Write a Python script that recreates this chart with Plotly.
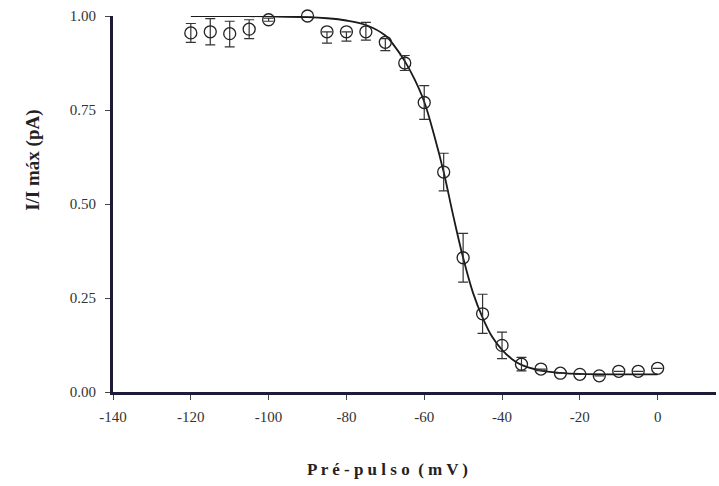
import plotly.graph_objects as go

# Measured data (pre-pulse voltage, normalized current, SEM)
voltage = [-120, -115, -110, -105, -100, -90, -85, -80, -75, -70, -65, -60, -55,
           -50, -45, -40, -35, -30, -25, -20, -15, -10, -5, 0]
current = [0.955, 0.958, 0.953, 0.965, 0.99, 1.0, 0.958, 0.958, 0.958, 0.93, 0.875,
           0.77, 0.585, 0.357, 0.208, 0.124, 0.074, 0.061, 0.05, 0.047, 0.043,
           0.055, 0.055, 0.063]
err_up = [0.025, 0.035, 0.033, 0.025, 0.004, 0.0, 0.0, 0.0, 0.025, 0.01, 0.02,
          0.045, 0.05, 0.065, 0.052, 0.035, 0.018, 0.0, 0.0, 0.0, 0.0, 0.0, 0.0, 0.0]
err_down = [0.025, 0.035, 0.035, 0.025, 0.004, 0.0, 0.03, 0.025, 0.022, 0.022, 0.02,
            0.045, 0.05, 0.065, 0.052, 0.035, 0.018, 0.004, 0.0, 0.0, 0.0, 0.0, 0.0, 0.0]

# Fitted curve
fit_v = [-120, -110, -100, -90, -85, -80, -75, -70, -67.5, -65, -62.5, -60, -57.5,
         -55, -52.5, -50, -47.5, -45, -42.5, -40, -37.5, -35, -30, -25, -20, -10, 0]
fit_i = [1.0, 1.0, 0.999, 0.997, 0.994, 0.988, 0.976, 0.948, 0.918, 0.88, 0.832,
         0.772, 0.685, 0.585, 0.467, 0.357, 0.265, 0.198, 0.146, 0.112, 0.088,
         0.072, 0.057, 0.051, 0.048, 0.047, 0.047]

x_ticks = [-140, -120, -100, -80, -60, -40, -20, 0]
x_tick_text = ["-140", "-120", "-100", "-80", "-60", "-40", "-20", "0"]
y_ticks = [0.0, 0.25, 0.5, 0.75, 1.0]
y_tick_text = ["0.00", "0.25", "0.50", "0.75", "1.00"]

fig = go.Figure()
fig.add_trace(go.Scatter(
    x=fit_v, y=fit_i, mode="lines", line=dict(color="#1a1a1a", width=1.8, shape="spline"),
    hoverinfo="skip", showlegend=False, cliponaxis=False))
fig.add_trace(go.Scatter(
    x=voltage, y=current, mode="markers",
    marker=dict(symbol="circle-open", size=12, color="#222", line=dict(width=1.3, color="#222")),
    error_y=dict(type="data", symmetric=False, array=err_up, arrayminus=err_down,
                 color="#333", thickness=1.2, width=5),
    showlegend=False, cliponaxis=False))

serif = "Liberation Serif, Times New Roman, serif"
axis_font = dict(family=serif, size=15, color="#333")
fig.update_layout(
    width=719, height=486,
    margin=dict(l=113, r=3, t=16, b=94),
    paper_bgcolor="white", plot_bgcolor="white",
    xaxis=dict(range=[-140, 15], tickvals=x_ticks, ticktext=x_tick_text, showgrid=False,
               zeroline=False, showline=True, linewidth=3, linecolor="#1c1c3a",
               ticks="outside", ticklen=5, tickcolor="#444", tickwidth=1,
               tickfont=axis_font, ticklabelstandoff=4),
    yaxis=dict(range=[0, 1], tickvals=y_ticks, ticktext=y_tick_text, showgrid=False,
               zeroline=False, showline=True, linewidth=3, linecolor="#1c1c3a",
               ticks="outside", ticklen=5, tickcolor="#444", tickwidth=1,
               tickfont=axis_font, ticklabelstandoff=6),
    annotations=[
        dict(text="<b>P r é - p u l s o  ( m V )</b>", xref="paper", yref="paper",
             x=0.456, y=-0.207, showarrow=False, xanchor="center", yanchor="middle",
             font=dict(family=serif, size=17, color="#222")),
        dict(text="<b>I/I máx (pA)</b>", xref="paper", yref="paper",
             x=-0.133, y=0.617, showarrow=False, textangle=-90, xanchor="center",
             yanchor="middle",
             font=dict(family=serif, size=19, color="#222")),
    ],
)

fig.write_html("out.html")
